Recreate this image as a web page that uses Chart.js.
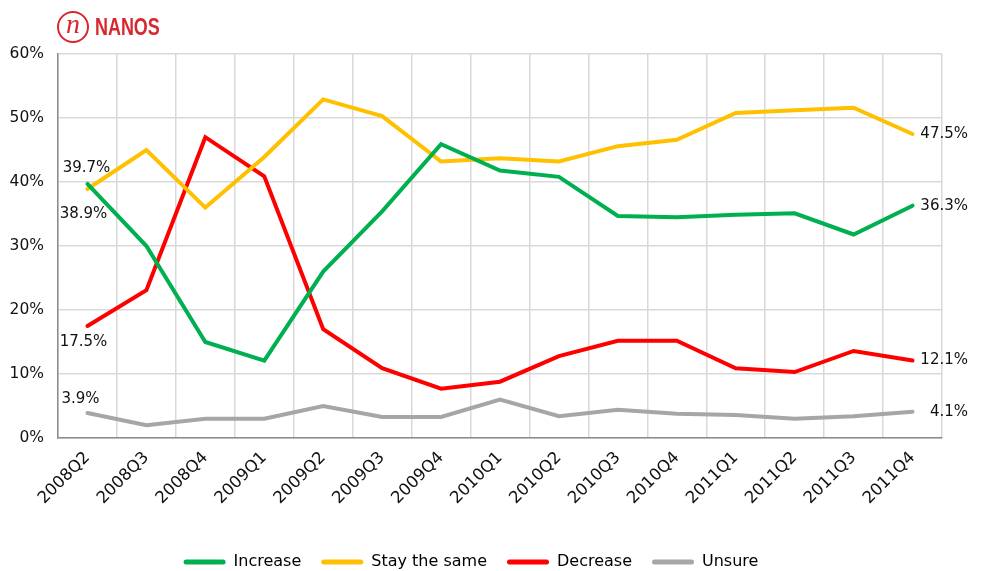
<!DOCTYPE html>
<html>
<head>
<meta charset="utf-8">
<script src="https://cdn.jsdelivr.net/npm/chart.js@4/dist/chart.umd.min.js"></script>
<style>
  html, body { margin: 0; padding: 0; background: #fff; }
  #wrap { position: relative; width: 983px; height: 571px; }
  #logo { position: absolute; left: 57px; top: 11px; height: 32px; display: flex; align-items: center; color: #d7282f; }
  #logo .ring { width: 28px; height: 28px; border: 2px solid #d7282f; border-radius: 50%; display: flex; align-items: center; justify-content: center;
    font: italic 28px "Liberation Serif", serif; line-height: 1; }
  #logo .ring span { position: relative; top: -3px; }
  #logo .name { margin-left: 6px; font: bold 23px "Liberation Sans", sans-serif;
    transform: scaleX(0.78); transform-origin: left center; }
</style>
</head>
<body>
<div id="wrap">
  <canvas id="chart" width="983" height="571"></canvas>
  <div id="logo"><div class="ring"><span>n</span></div><div class="name">NANOS</div></div>
</div>
<script>
const quarters = ['2008Q2', '2008Q3', '2008Q4', '2009Q1', '2009Q2', '2009Q3', '2009Q4', '2010Q1',
  '2010Q2', '2010Q3', '2010Q4', '2011Q1', '2011Q2', '2011Q3', '2011Q4']

const increase = [39.7, 30.0, 15.0, 12.1, 26.0, 35.4, 45.9, 41.8, 40.8, 34.7, 34.5, 34.9, 35.1, 31.8, 36.3]
const staySame = [38.9, 45.0, 36.0, 43.9, 52.9, 50.3, 43.2, 43.7, 43.2, 45.6, 46.6, 50.8, 51.2, 51.6, 47.5]
const decrease = [17.5, 23.1, 47.0, 40.9, 17.0, 10.9, 7.7, 8.8, 12.8, 15.2, 15.2, 10.9, 10.3, 13.6, 12.1]
const unsure = [3.9, 2.0, 3.0, 3.0, 5.0, 3.3, 3.3, 6.0, 3.4, 4.4, 3.8, 3.6, 3.0, 3.4, 4.1]

const yTicks = [0, 10, 20, 30, 40, 50, 60]

const FONT = 'DejaVu Sans'

// first / last value labels
const endLabels = {
  id: 'endLabels',
  afterDatasetsDraw (chart) {
    const ctx = chart.ctx
    ctx.save()
    ctx.font = '15px ' + FONT
    ctx.fillStyle = '#111'
    ctx.textBaseline = 'middle'
    chart.data.datasets.forEach((ds, i) => {
      const pts = chart.getDatasetMeta(i).data
      const first = pts[0]
      const last = pts[pts.length - 1]
      ctx.textAlign = 'center'
      ctx.fillText(ds.data[0].toFixed(1) + '%', first.x + ds.firstDx, first.y + ds.firstDy)
      ctx.textAlign = 'right'
      ctx.fillText(ds.data[ds.data.length - 1].toFixed(1) + '%', 968, last.y)
    })
    ctx.restore()
  }
}

const line = (label, data, color, firstDx, firstDy) => ({
  label,
  data,
  borderColor: color,
  backgroundColor: color,
  borderWidth: 4,
  pointRadius: 0,
  tension: 0,
  fill: false,
  borderCapStyle: 'round',
  borderJoinStyle: 'miter',
  firstDx,
  firstDy
})

new Chart(document.getElementById('chart'), {
  type: 'line',
  data: {
    labels: quarters,
    datasets: [
      line('Increase', increase, '#00b050', -1, -16),
      line('Stay the same', staySame, '#ffc000', -4, 25),
      line('Decrease', decrease, '#ff0000', -4, 16),
      line('Unsure', unsure, '#a6a6a6', -7, -14)
    ]
  },
  options: {
    responsive: false,
    animation: false,
    layout: { padding: { top: 54, right: 41, left: 0, bottom: -9 } },
    plugins: {
      tooltip: { enabled: false },
      legend: {
        position: 'bottom',
        labels: {
          font: { family: FONT, size: 16 },
          color: '#111',
          boxWidth: 42,
          boxHeight: 5,
          padding: 20,
          generateLabels (chart) {
            return chart.data.datasets.map((ds, i) => ({
              text: ds.label,
              fillStyle: ds.borderColor,
              strokeStyle: ds.borderColor,
              lineWidth: 0,
              borderRadius: 2.5,
              datasetIndex: i
            }))
          }
        }
      }
    },
    scales: {
      x: {
        offset: true,
        grid: { offset: true, color: '#d9d9d9', lineWidth: 1.5, drawTicks: false },
        border: { color: '#8c8c8c', width: 1.5 },
        ticks: {
          font: { family: FONT, size: 16.5 },
          color: '#111',
          minRotation: 45,
          maxRotation: 45,
          padding: 10
        },
        afterFit (scale) { scale.height = 96 }
      },
      y: {
        min: 0,
        max: 60,
        afterBuildTicks (scale) { scale.ticks = yTicks.map(v => ({ value: v })) },
        grid: { color: '#d9d9d9', lineWidth: 1.5, drawTicks: false },
        border: { color: '#8c8c8c', width: 1.5 },
        ticks: {
          font: { family: FONT, size: 15.5 },
          color: '#111',
          padding: 14,
          callback: v => v + '%'
        },
        afterFit (scale) { scale.width = 58 }
      }
    }
  },
  plugins: [endLabels]
})
</script>
</body>
</html>
